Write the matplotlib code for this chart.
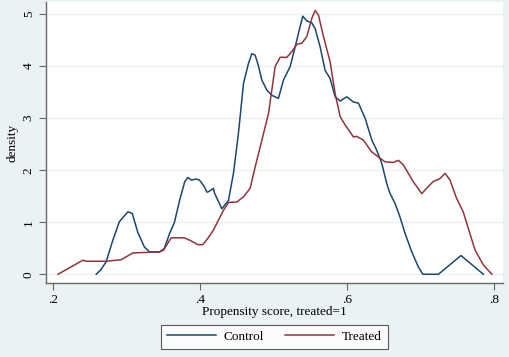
import matplotlib.pyplot as plt
import numpy as np

plt.rcParams['font.family'] = ['Liberation Serif', 'DejaVu Serif']

# propensity score density
control_x = [0.2585, 0.265, 0.272, 0.281, 0.290, 0.3016, 0.3075, 0.315, 0.324, 0.331,
             0.3446, 0.351, 0.3583, 0.365, 0.372, 0.379, 0.3833, 0.3878, 0.3946, 0.399,
             0.4058, 0.409, 0.4104, 0.415, 0.418, 0.4195, 0.4295, 0.4385, 0.4453, 0.452,
             0.459, 0.4657, 0.4703, 0.4748, 0.479, 0.484, 0.4907, 0.4975, 0.5065, 0.5133,
             0.5224, 0.5293, 0.536, 0.5397, 0.545, 0.552, 0.5565, 0.5633, 0.570, 0.5769,
             0.5837, 0.5905, 0.5996, 0.6086, 0.6154, 0.6245, 0.6336, 0.6404, 0.6472, 0.654,
             0.6585, 0.6653, 0.672, 0.679, 0.688, 0.697, 0.703, 0.7243, 0.755, 0.7854]
control_y = [0.0, 0.09, 0.24, 0.65, 1.01, 1.2, 1.17, 0.81, 0.525, 0.43,
             0.43, 0.49, 0.78, 1.0, 1.42, 1.78, 1.86, 1.81, 1.83, 1.81,
             1.68, 1.58, 1.58, 1.62, 1.65, 1.56, 1.26, 1.42, 1.94, 2.7,
             3.67, 4.05, 4.24, 4.21, 4.02, 3.73, 3.54, 3.44, 3.38, 3.73,
             3.99, 4.37, 4.76, 4.96, 4.87, 4.83, 4.72, 4.37, 3.92, 3.76,
             3.41, 3.33, 3.41, 3.31, 3.29, 3.0, 2.58, 2.38, 2.13, 1.74,
             1.55, 1.36, 1.1, 0.78, 0.43, 0.14, 0.0, 0.0, 0.36, 0.0]

treated_x = [0.2064, 0.2404, 0.245, 0.272, 0.2925, 0.3084, 0.3446, 0.35, 0.3605, 0.3786,
             0.3878, 0.3968, 0.4037, 0.4104, 0.418, 0.4317, 0.4385, 0.45, 0.459, 0.468,
             0.4748, 0.484, 0.493, 0.4975, 0.502, 0.5088, 0.518, 0.5248, 0.5316, 0.5384,
             0.5452, 0.552, 0.5565, 0.561, 0.5678, 0.5769, 0.5837, 0.5905, 0.5973, 0.6086,
             0.613, 0.622, 0.6336, 0.6449, 0.6517, 0.663, 0.6698, 0.6766, 0.690, 0.7016,
             0.708, 0.717, 0.7265, 0.7333, 0.740, 0.749, 0.758, 0.765, 0.774, 0.7854, 0.797]
treated_y = [0.0, 0.27, 0.25, 0.25, 0.28, 0.41, 0.43, 0.46, 0.70, 0.70,
             0.64, 0.57, 0.57, 0.69, 0.85, 1.23, 1.38, 1.39, 1.49, 1.65,
             2.06, 2.58, 3.09, 3.54, 3.99, 4.17, 4.17, 4.28, 4.42, 4.44,
             4.57, 4.92, 5.07, 4.98, 4.57, 4.08, 3.47, 3.03, 2.87, 2.64,
             2.65, 2.58, 2.35, 2.23, 2.16, 2.15, 2.19, 2.1, 1.78, 1.55,
             1.65, 1.78, 1.84, 1.94, 1.81, 1.46, 1.2, 0.88, 0.47, 0.18, 0.0]

bg = '#eaf2f3'
navy = '#1a476f'
maroon = '#90353b'

fig = plt.figure(figsize=(5.1, 3.57), dpi=100, facecolor=bg)
ax = fig.add_axes([0.090, 0.207, 0.896, 0.787])
ax.set_facecolor('white')

ax.plot(control_x, control_y, color=navy, lw=1.1, label='Control')
ax.plot(treated_x, treated_y, color=maroon, lw=1.1, label='Treated')

ax.set_xlim(0.19, 0.812)
ax.set_ylim(-0.17, 5.23)
ax.set_xticks([0.2, 0.4, 0.6, 0.8])
ax.set_xticklabels(['.2', '.4', '.6', '.8'])
ax.set_yticks([0, 1, 2, 3, 4, 5])
ax.set_yticklabels(['0', '1', '2', '3', '4', '5'], rotation=90, va='center')
ax.grid(axis='y', color=bg, lw=1.0)
ax.set_axisbelow(True)

for s in ['top', 'right']:
    ax.spines[s].set_visible(False)
for s in ['left', 'bottom']:
    ax.spines[s].set_color('#666666')
    ax.spines[s].set_linewidth(1.0)
ax.tick_params(direction='out', length=5, width=0.8, color='#666666', labelsize=9.5, pad=3)

ax.set_xlabel('Propensity score, treated=1', fontsize=9.5, labelpad=0)
ax.set_ylabel('density', fontsize=9.5, labelpad=3)

leg = ax.legend(loc='upper center', bbox_to_anchor=(0.5, -0.148), ncol=2, fontsize=9.5,
                frameon=True, fancybox=False, handlelength=3.7, columnspacing=1.6,
                borderpad=0.45, handletextpad=0.6, borderaxespad=0)
leg.get_frame().set_edgecolor('#333333')
leg.get_frame().set_linewidth(0.8)

fig.savefig('out.png', dpi=100, facecolor=bg)
